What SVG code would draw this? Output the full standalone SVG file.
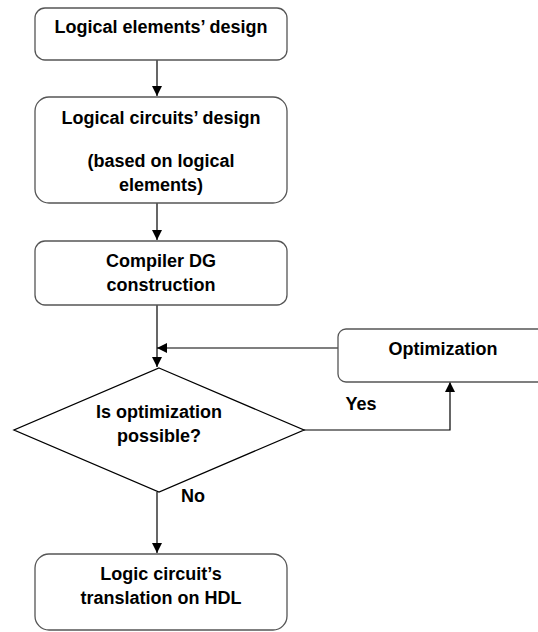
<svg xmlns="http://www.w3.org/2000/svg" width="538" height="632" viewBox="0 0 538 632">
  <defs>
    <marker id="arrow" viewBox="0 0 10 10" refX="10" refY="5" markerWidth="10" markerHeight="10" markerUnits="userSpaceOnUse" orient="auto">
      <path d="M0,0 L10,5 L0,10 z" fill="#000"/>
    </marker>
    <style>
      .box { fill: #fff; stroke: #555; stroke-width: 1.3; }
      .dia { fill: #fff; stroke: #000; stroke-width: 1.3; }
      .lbl { font-family: "Liberation Sans", Arial, sans-serif; font-weight: bold; font-size: 18px; fill: #000; text-anchor: middle; }
      .edge { fill: none; stroke: #000; stroke-width: 1.2; }
    </style>
  </defs>
  <rect width="538" height="632" fill="#fff"/>

  <g id="connectors">
    <line class="edge" x1="157" y1="60" x2="157" y2="96" marker-end="url(#arrow)"/>
    <line class="edge" x1="157" y1="203" x2="157" y2="240" marker-end="url(#arrow)"/>
    <line class="edge" x1="157" y1="305" x2="157" y2="367" marker-end="url(#arrow)"/>
    <line class="edge" x1="338" y1="348" x2="157" y2="348" marker-end="url(#arrow)"/>
    <polyline class="edge" points="304,430 450,430 450,382" marker-end="url(#arrow)"/>
    <line class="edge" x1="157" y1="492" x2="157" y2="553" marker-end="url(#arrow)"/>
    <text class="lbl" x="361" y="410" font-size="16">Yes</text>
    <text class="lbl" x="193" y="502" font-size="16">No</text>
  </g>

  <g id="n1">
    <rect class="box" x="35" y="8" width="252" height="52" rx="10"/>
    <text class="lbl" x="161" y="33">Logical elements’ design</text>
  </g>

  <g id="n2">
    <rect class="box" x="35" y="97" width="252" height="106" rx="14"/>
    <text class="lbl" x="161" y="124">Logical circuits’ design</text>
    <text class="lbl" x="161" y="167">(based on logical</text>
    <text class="lbl" x="161" y="191">elements)</text>
  </g>

  <g id="n3">
    <rect class="box" x="35" y="241" width="252" height="64" rx="10"/>
    <text class="lbl" x="161" y="267">Compiler DG</text>
    <text class="lbl" x="161" y="291">construction</text>
  </g>

  <g id="n4">
    <rect class="box" x="338" y="329" width="220" height="53" rx="8"/>
    <text class="lbl" x="443" y="355">Optimization</text>
  </g>

  <g id="n5">
    <polygon class="dia" points="159,368 304,430 159,492 14,430"/>
    <text class="lbl" x="159" y="418">Is optimization</text>
    <text class="lbl" x="159" y="442">possible?</text>
  </g>

  <g id="n6">
    <rect class="box" x="35" y="554" width="252" height="76" rx="14"/>
    <text class="lbl" x="161" y="580">Logic circuit’s</text>
    <text class="lbl" x="161" y="604">translation on HDL</text>
  </g>
</svg>
